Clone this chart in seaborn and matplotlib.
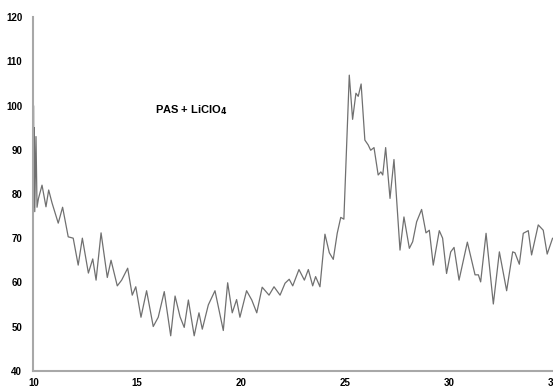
import matplotlib
matplotlib.use("Agg")
import matplotlib.pyplot as plt
import seaborn as sns
import pandas as pd

# Spectrum trace: position (x) and intensity (y)
x_vals = [10.00, 10.01, 10.03, 10.05, 10.07, 10.13, 10.18, 10.25, 10.42, 10.61, 10.74, 10.90,
          11.20, 11.41, 11.68, 11.92, 12.16, 12.36, 12.65, 12.86, 13.02, 13.26, 13.56, 13.74,
          14.04, 14.25, 14.54, 14.76, 14.93, 15.18, 15.45, 15.77, 16.01, 16.30, 16.61, 16.82,
          17.06, 17.26, 17.46, 17.74, 17.97, 18.13, 18.42, 18.74, 19.14, 19.35, 19.57, 19.78,
          19.94, 20.26, 20.51, 20.75, 21.01, 21.34, 21.58, 21.87, 22.11, 22.31, 22.48, 22.78,
          23.04, 23.23, 23.44, 23.58, 23.79, 24.03, 24.24, 24.43, 24.62, 24.79, 24.94, 25.20,
          25.36, 25.52, 25.63, 25.77, 25.95, 26.11, 26.23, 26.39, 26.59, 26.72, 26.81, 26.95,
          27.16, 27.35, 27.64, 27.83, 28.09, 28.25, 28.44, 28.68, 28.89, 29.05, 29.24, 29.53,
          29.69, 29.88, 30.08, 30.24, 30.48, 30.88, 31.25, 31.41, 31.52, 31.78, 32.13, 32.42,
          32.77, 33.06, 33.17, 33.38, 33.57, 33.81, 33.97, 34.29, 34.53, 34.72, 34.98]
y_vals = [70.0, 100.0, 77.0, 95.0, 76.0, 93.0, 77.0, 79.0, 82.0, 77.1, 80.9, 78.0,
          73.4, 77.0, 70.3, 70.0, 63.9, 70.0, 62.1, 65.3, 60.5, 71.2, 61.1, 65.0,
          59.2, 60.5, 63.2, 57.1, 59.0, 52.1, 58.1, 50.0, 52.1, 57.9, 47.9, 56.9,
          52.2, 49.8, 56.0, 47.9, 53.1, 49.4, 54.9, 58.1, 49.1, 59.9, 53.1, 56.1,
          52.1, 58.1, 56.0, 53.1, 58.9, 57.1, 59.0, 57.1, 59.8, 60.7, 59.2, 62.9,
          60.5, 62.9, 59.2, 61.3, 59.0, 70.9, 66.7, 65.2, 71.1, 74.7, 74.3, 106.9,
          96.9, 102.8, 102.1, 104.9, 92.2, 91.1, 89.9, 90.5, 84.3, 85.0, 84.3, 90.5,
          79.0, 87.8, 67.3, 74.8, 67.7, 69.2, 73.7, 76.5, 71.2, 71.8, 63.9, 71.7,
          70.0, 62.0, 66.9, 67.9, 60.5, 69.1, 61.7, 61.7, 60.1, 71.1, 55.1, 66.9,
          58.1, 66.9, 66.7, 64.1, 71.1, 71.7, 66.2, 73.0, 71.8, 66.4, 70.0]

x_ticks = [10, 15, 20, 25, 30, 35]
y_ticks = [40, 50, 60, 70, 80, 90, 100, 110, 120]
label_text = r"PAS + LiClO$_{\mathrm{4}}$"

sns.set_theme(style="white")
narrow = ["Liberation Sans Narrow", "Liberation Sans", "DejaVu Sans"]
plt.rcParams["font.family"] = narrow
plt.rcParams["mathtext.fontset"] = "custom"
plt.rcParams["mathtext.rm"] = "Liberation Sans Narrow:bold"

df = pd.DataFrame({"x": x_vals, "y": y_vals})

fig = plt.figure(figsize=(5.53, 3.90), dpi=100)
ax = fig.add_axes([0.0602, 0.0495, 0.9398, 0.9062])

sns.lineplot(data=df, x="x", y="y", sort=False, estimator=None,
             color="#707070", linewidth=0.9, ax=ax)

ax.set_xlim(10, 35)
ax.set_ylim(40, 120)
ax.set_xticks(x_ticks)
ax.set_yticks(y_ticks)
ax.set_xticklabels([str(t) for t in x_ticks], fontsize=7, fontweight="bold")
ax.set_yticklabels([str(t) for t in y_ticks], fontsize=7, fontweight="bold")
ax.set_xlabel("")
ax.set_ylabel("")

for side in ("top", "right"):
    ax.spines[side].set_visible(False)
for side in ("left", "bottom"):
    ax.spines[side].set_color("#a8a8a8")
    ax.spines[side].set_linewidth(1.5)

ax.tick_params(axis="both", which="major", direction="out", length=3, width=1,
               color="#a8a8a8", labelcolor="black")
ax.tick_params(axis="x", pad=2.5)
ax.tick_params(axis="y", pad=5)

ax.text(15.85, 99.0, label_text, fontsize=8, fontweight="bold",
        ha="left", va="center", color="black")

fig.savefig("out.png", dpi=100)
